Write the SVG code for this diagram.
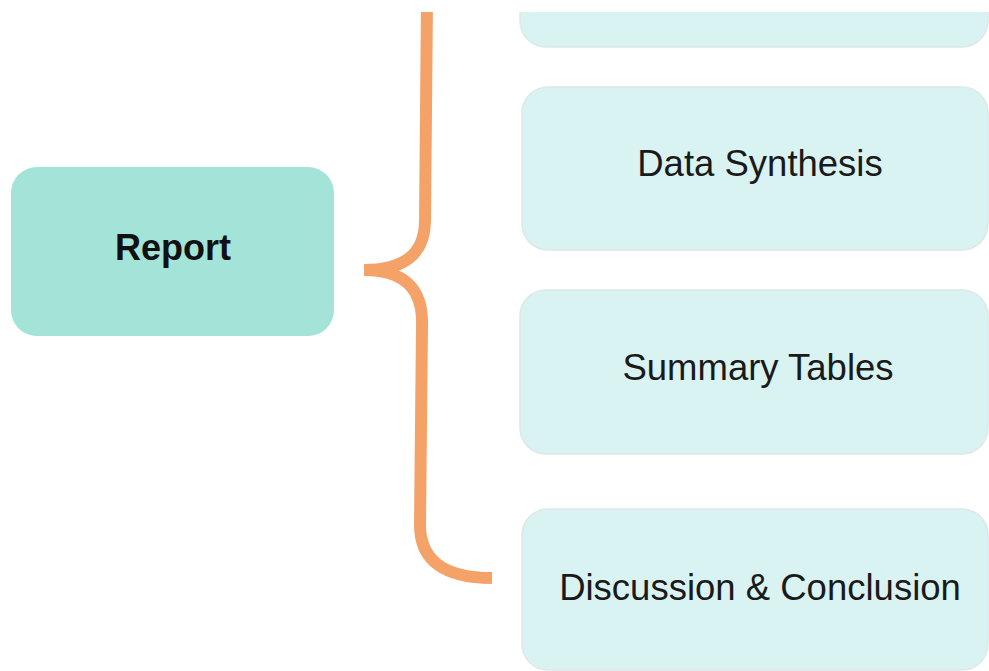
<svg xmlns="http://www.w3.org/2000/svg" width="989" height="671" viewBox="0 0 989 671">
<defs>
<style>
.child rect{fill:#d9f3f2;stroke:#dfe8e8;stroke-width:1.5}
.child text{font-family:"Liberation Sans",Arial,sans-serif;font-size:36.5px;fill:#1a1a1a;text-anchor:middle}
.root rect{fill:#a4e3d8}
.root text{font-family:"Liberation Sans",Arial,sans-serif;font-size:36px;font-weight:bold;fill:#111;text-anchor:middle}
.brace{fill:none;stroke:#f5a269;stroke-width:12}
</style>
<clipPath id="c"><rect x="0" y="12" width="989" height="659"/></clipPath>
</defs>
<rect width="989" height="671" fill="#fff"/>
<g clip-path="url(#c)">
<g id="connectors">
<path class="brace" d="M 427 0 L 425 222 Q 424 270 364 270 Q 424 270 422 326 L 420 525 Q 420 578 492 578"/>
</g>
<g id="root" class="root">
<rect x="11" y="167" width="323" height="169" rx="26"/>
<text x="173" y="260">Report</text>
</g>
<g id="top" class="child">
<rect x="520" y="-120" width="468" height="167" rx="26"/>
</g>
<g id="data-synthesis" class="child">
<rect x="522" y="87" width="466" height="163" rx="26"/>
<text x="760" y="176">Data Synthesis</text>
</g>
<g id="summary-tables" class="child">
<rect x="520" y="290" width="468" height="164" rx="26"/>
<text x="758" y="380">Summary Tables</text>
</g>
<g id="discussion" class="child">
<rect x="522" y="509" width="466" height="161" rx="26"/>
<text x="760" y="600">Discussion &amp; Conclusion</text>
</g>
</g>
</svg>
